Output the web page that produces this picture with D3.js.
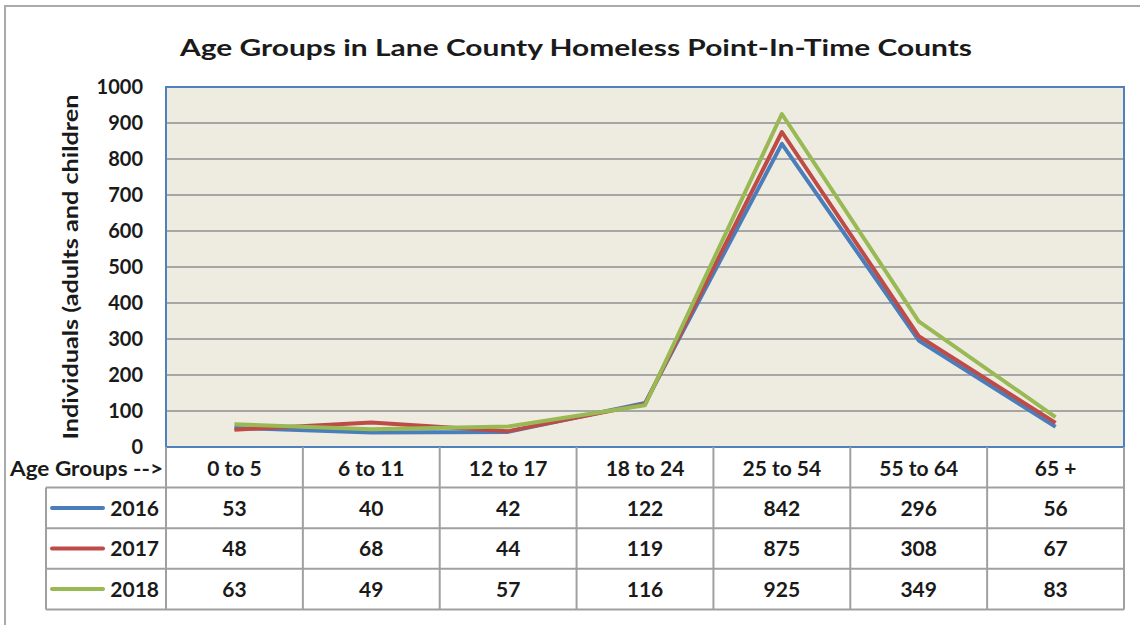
<!DOCTYPE html>
<html>
<head>
<meta charset="utf-8">
<script src="https://cdn.jsdelivr.net/npm/d3@7"></script>
<style>
  body { margin: 0; background: #fff; }
  svg { display: block; font-family: Lato, "Open Sans", sans-serif; font-weight: bold; }
</style>
</head>
<body>
<div id="chart"></div>
<script>
// Chart data
const ageGroups = ['0 to 5', '6 to 11', '12 to 17', '18 to 24', '25 to 54', '55 to 64', '65 +'];
const years = ['2016', '2017', '2018'];
const counts2016 = [53, 40, 42, 122, 842, 296, 56];
const counts2017 = [48, 68, 44, 119, 875, 308, 67];
const counts2018 = [63, 49, 57, 116, 925, 349, 83];
const yTicks = [0, 100, 200, 300, 400, 500, 600, 700, 800, 900, 1000];
const lineColors = ['#4a7ebb', '#be4b48', '#98b954'];

const series = years.map((yr, i) => ({
  year: yr,
  values: [counts2016, counts2017, counts2018][i],
  color: lineColors[i]
}));

// layout
const W = 1140, H = 625;
const plot = { left: 166, right: 1124, top: 87, bottom: 447 };
const rowH = 40.6;

const svg = d3.select("#chart").append("svg")
  .attr("width", W)
  .attr("height", H);

// outer frame (only top and left are visible in the crop)
svg.append("path")
  .attr("d", `M5,${H} L5,6 L${W},6`)
  .attr("fill", "none")
  .attr("stroke", "#aaaaaa")
  .attr("stroke-width", 2);

svg.append("text")
  .attr("x", 576)
  .attr("y", 56)
  .attr("text-anchor", "middle")
  .attr("font-size", 23)
  .attr("textLength", 792)
  .attr("lengthAdjust", "spacingAndGlyphs")
  .attr("fill", "#1a1a1a")
  .text("Age Groups in Lane County Homeless Point-In-Time Counts");

const x = d3.scaleBand().domain(ageGroups).range([plot.left, plot.right]);
const y = d3.scaleLinear().domain([0, 1000]).range([plot.bottom, plot.top]);

// plot background
svg.append("rect")
  .attr("x", plot.left)
  .attr("y", plot.top)
  .attr("width", plot.right - plot.left)
  .attr("height", plot.bottom - plot.top)
  .attr("fill", "#eeece1");

// gridlines
svg.append("g")
  .selectAll("line")
  .data(yTicks.filter(t => t > 0 && t < 1000))
  .enter().append("line")
  .attr("x1", plot.left)
  .attr("x2", plot.right)
  .attr("y1", d => y(d))
  .attr("y2", d => y(d))
  .attr("stroke", "#a6a6a6")
  .attr("stroke-width", 2);

// y axis labels
const yAxis = d3.axisLeft(y).tickValues(yTicks).tickSize(0).tickPadding(0).tickFormat(d3.format("d"));
const yg = svg.append("g")
  .attr("transform", "translate(143,0)")
  .call(yAxis);
yg.select(".domain").remove();
yg.selectAll("text")
  .attr("font-family", "Lato, sans-serif")
  .attr("font-weight", "bold")
  .attr("font-size", 20)
  .attr("fill", "#1a1a1a")
  .attr("dy", "0.3em");

svg.append("text")
  .attr("transform", "translate(78,267) rotate(-90)")
  .attr("text-anchor", "middle")
  .attr("font-size", 21)
  .attr("textLength", 345)
  .attr("lengthAdjust", "spacingAndGlyphs")
  .attr("fill", "#1a1a1a")
  .text("Individuals (adults and children");

// lines
const line = d3.line()
  .x((d, i) => x(ageGroups[i]) + x.bandwidth() / 2)
  .y(d => y(d));

svg.append("g")
  .selectAll("path")
  .data(series)
  .enter().append("path")
  .attr("d", d => line(d.values))
  .attr("fill", "none")
  .attr("stroke", d => d.color)
  .attr("stroke-width", 4)
  .attr("stroke-linejoin", "round");

// plot border
svg.append("rect")
  .attr("x", plot.left)
  .attr("y", plot.top)
  .attr("width", plot.right - plot.left)
  .attr("height", plot.bottom - plot.top)
  .attr("fill", "none")
  .attr("stroke", "#4f81bd")
  .attr("stroke-width", 2);

// data table
const table = svg.append("g");
const tableBottom = plot.bottom + rowH * (years.length + 1);
const gridColor = "#a0a0a0";

// vertical lines
table.selectAll(".vline")
  .data(ageGroups.map(g => x(g)).concat([plot.right]))
  .enter().append("line")
  .attr("class", "vline")
  .attr("x1", d => d).attr("x2", d => d)
  .attr("y1", plot.bottom).attr("y2", tableBottom)
  .attr("stroke", gridColor).attr("stroke-width", 2);

// horizontal lines
table.selectAll(".hline")
  .data(d3.range(1, years.length + 2))
  .enter().append("line")
  .attr("class", "hline")
  .attr("x1", 46).attr("x2", plot.right)
  .attr("y1", i => plot.bottom + rowH * i)
  .attr("y2", i => plot.bottom + rowH * i)
  .attr("stroke", gridColor).attr("stroke-width", 2);

table.append("line")
  .attr("x1", 46).attr("x2", 46)
  .attr("y1", plot.bottom + rowH).attr("y2", tableBottom)
  .attr("stroke", gridColor).attr("stroke-width", 2);

// header row
table.append("text")
  .attr("x", 163)
  .attr("y", plot.bottom + 29)
  .attr("text-anchor", "end")
  .attr("font-size", 20)
  .attr("textLength", 153)
  .attr("lengthAdjust", "spacingAndGlyphs")
  .attr("fill", "#1a1a1a")
  .text("Age Groups -->");

table.selectAll(".hdr")
  .data(ageGroups)
  .enter().append("text")
  .attr("class", "hdr")
  .attr("x", d => x(d) + x.bandwidth() / 2)
  .attr("y", plot.bottom + 29)
  .attr("text-anchor", "middle")
  .attr("font-size", 21)
  .attr("fill", "#1a1a1a")
  .text(d => d);

// series rows
const rows = table.selectAll(".row")
  .data(series)
  .enter().append("g")
  .attr("class", "row")
  .attr("transform", (d, i) => "translate(0," + (plot.bottom + rowH * (i + 1)) + ")");

rows.append("line")
  .attr("x1", 52).attr("x2", 103)
  .attr("y1", rowH / 2).attr("y2", rowH / 2)
  .attr("stroke", d => d.color)
  .attr("stroke-width", 4)
  .attr("stroke-linecap", "round");

rows.append("text")
  .attr("x", 159)
  .attr("y", 28)
  .attr("text-anchor", "end")
  .attr("font-size", 21)
  .attr("fill", "#1a1a1a")
  .text(d => d.year);

rows.selectAll(".val")
  .data(d => d.values)
  .enter().append("text")
  .attr("class", "val")
  .attr("x", (d, i) => x(ageGroups[i]) + x.bandwidth() / 2)
  .attr("y", 28)
  .attr("text-anchor", "middle")
  .attr("font-size", 21)
  .attr("fill", "#1a1a1a")
  .text(d => d);
</script>
</body>
</html>
